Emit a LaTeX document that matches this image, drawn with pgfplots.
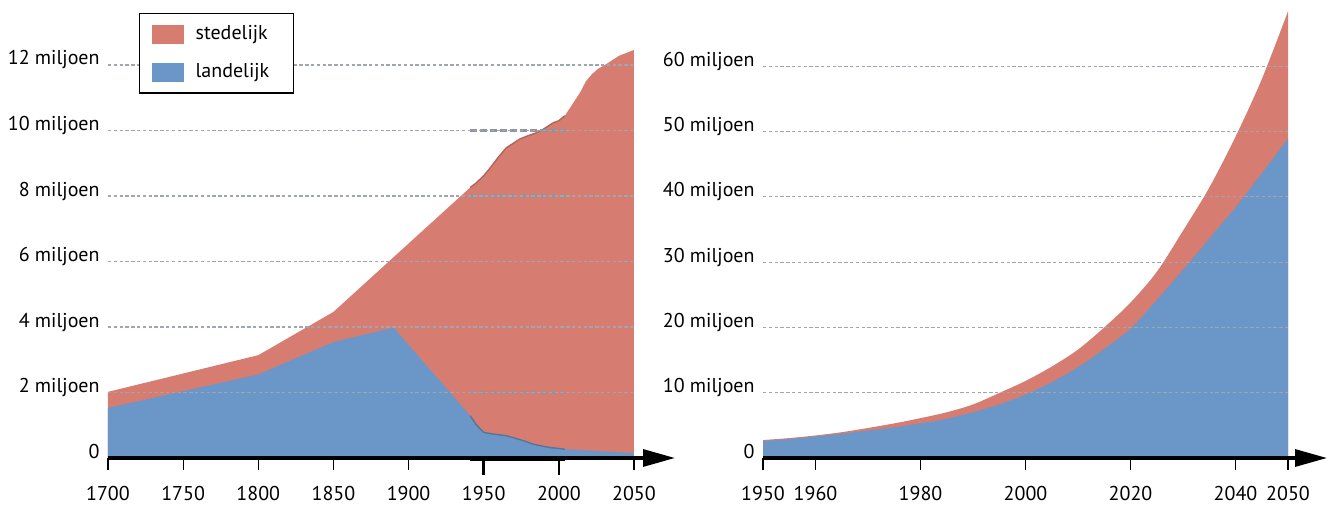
\documentclass[border=0pt]{standalone}
\usepackage{fontspec}
\setmainfont{PT Sans}
\usepackage{pgfplots}
\pgfplotsset{compat=1.18}
\usetikzlibrary{arrows.meta}
\definecolor{redA}{RGB}{214,124,112}
\definecolor{blueA}{RGB}{106,151,199}
\definecolor{gridc}{RGB}{160,166,176}
\definecolor{gridd}{RGB}{140,148,162}

\pgfplotstableread{
x y
1700 2.02
1800 3.14
1850 4.46
1941 8.26
1945 8.40
1950 8.62
1954 8.84
1960 9.20
1965 9.47
1970 9.62
1974 9.74
1980 9.85
1985 9.93
1990 10.05
1996 10.23
2000 10.30
2004 10.45
2009 10.80
2014 11.15
2018 11.50
2022 11.72
2026 11.88
2032 12.04
2040 12.28
2050 12.46
}\lefttotal

\pgfplotstableread{
x y
1700 1.53
1800 2.55
1850 3.54
1890 3.98
1941 1.29
1945 1.02
1950 0.78
1955 0.74
1965 0.68
1975 0.55
1983 0.42
1994 0.32
2004 0.27
2050 0.15
}\leftrural

\pgfplotstableread{
x y
1941 8.26
1945 8.40
1950 8.62
1954 8.84
1960 9.20
1965 9.47
1970 9.62
1974 9.74
1980 9.85
1985 9.93
1990 10.05
1996 10.23
2000 10.30
2004 10.45
}\leftedgetotal

\pgfplotstableread{
x y
1941 1.29
1945 1.02
1950 0.78
1955 0.74
1965 0.68
1975 0.55
1983 0.42
1994 0.32
2004 0.27
}\leftedgerural

\pgfplotstableread{
x y
1950 2.75
1955 3.05
1960 3.45
1965 3.95
1970 4.6
1975 5.3
1980 6.1
1985 7.0
1990 8.2
1995 9.95
2000 11.8
2005 14.0
2010 16.6
2015 20.0
2020 23.8
2025 28.5
2030 34.8
2035 41.4
2040 49.2
2045 58.0
2050 68.4
}\righttotal

\pgfplotstableread{
x y
1950 2.6
1955 2.9
1960 3.3
1965 3.7
1970 4.2
1975 4.7
1980 5.3
1985 6.0
1990 7.0
1995 8.2
2000 9.7
2005 11.6
2010 13.9
2015 16.7
2020 19.8
2025 24.2
2030 28.8
2035 33.6
2040 38.4
2045 43.6
2050 48.9
}\rightrural

\begin{document}
\begin{tikzpicture}
\useasboundingbox (0pt,0pt) rectangle (664pt,252pt);
\pgfplotsset{
  myaxis/.style={
    scale only axis, enlargelimits=false, axis on top,
    axis line style={draw=none},
    ymajorgrids, grid style={gridc, line width=0.55pt, dash pattern=on 1.7pt off 1.2pt},
    xtick align=outside, xtick pos=left,
    ytick style={draw=none},
    major tick length=6pt, xtick style={black, line width=0.6pt},
    tick label style={font=\fontsize{10}{12}\selectfont},
    yticklabel style={anchor=base east, inner sep=0pt, xshift=-4pt},
    xticklabel style={anchor=base, inner sep=0pt, yshift=-15pt},
  }
}
% left panel
\begin{axis}[myaxis, at={(54pt,23pt)}, anchor=south west,
  width=263pt, height=212.875pt,
  xmin=1700, xmax=2050, ymin=0, ymax=13,
  xtick={1700,1750,1800,1850,1900,1950,2000,2050},
  xticklabels={1700,1750,1800,1850,1900,1950,2000,2050},
  ytick={0,2,4,6,8,10,12},
  yticklabels={0,2 miljoen,4 miljoen,6 miljoen,8 miljoen,10 miljoen,12 miljoen},
  legend style={at={(0.0589,1.0452)}, anchor=north west, draw=black, line width=0.6pt,
    fill=white, inner xsep=6pt, inner ysep=5pt, row sep=8.5pt,
    font=\fontsize{10}{12}\selectfont,
    nodes={inner xsep=6pt, inner ysep=1pt}},
  legend cell align=left,
  legend image code/.code={\fill[#1] (0pt,-4.75pt) rectangle (16pt,4.75pt);},
]
\addplot[fill=redA, draw=none] table[x=x,y=y] {\lefttotal} \closedcycle;
\addlegendentry{stedelijk}
\addplot[fill=blueA, draw=none] table[x=x,y=y] {\leftrural} \closedcycle;
\addlegendentry{landelijk}
\addplot[forget plot, draw=redA!82!black, line width=0.7pt] table[x=x,y=y] {\leftedgetotal};
\addplot[forget plot, draw=blueA!78!black, line width=0.7pt] table[x=x,y=y] {\leftedgerural};
\draw[gridd, line width=1.6pt, dash pattern=on 3.5pt off 1.5pt] (axis cs:1941,10) -- (axis cs:2004,10);
\draw[gridd, opacity=0.6, line width=1.6pt, dash pattern=on 3.5pt off 1.5pt] (axis cs:1941,8) -- (axis cs:2004,8);
\draw[gridd, opacity=0.6, line width=1.6pt, dash pattern=on 3.5pt off 1.5pt] (axis cs:1941,2) -- (axis cs:2004,2);
\coordinate (LA) at (axis cs:1700,0);
\coordinate (LB) at (axis cs:2050,0);
\coordinate (LC) at (axis cs:1941,0);
\coordinate (LD) at (axis cs:2004,0);
\coordinate (LE) at (axis cs:1950,0);
\coordinate (LF) at (axis cs:2000,0);
\end{axis}
\draw[line width=1.6pt, -{Triangle[length=16pt,width=8.5pt]}] (LA) -- ([xshift=20.5pt]LB);
\draw[line width=2.4pt] ([yshift=-0.5pt]LC) -- ([yshift=-0.5pt]LD);
\draw[line width=1.3pt] (LE) -- ++(0,-8.5pt);
\draw[line width=1.3pt] (LF) -- ++(0,-8.5pt);

% right panel
\begin{axis}[myaxis, at={(381.5pt,23pt)}, anchor=south west,
  width=262.5pt, height=228.55pt,
  xmin=1950, xmax=2050, ymin=0, ymax=70,
  xtick={1950,1960,1980,2000,2020,2040,2050},
  xticklabels={1950,1960,1980,2000,2020,2040,2050},
  ytick={0,10,20,30,40,50,60},
  yticklabels={0,10 miljoen,20 miljoen,30 miljoen,40 miljoen,50 miljoen,60 miljoen},
]
\addplot[fill=redA, draw=none, smooth, tension=0.5] table[x=x,y=y] {\righttotal} \closedcycle;
\addplot[fill=blueA, draw=none, smooth, tension=0.5] table[x=x,y=y] {\rightrural} \closedcycle;
\coordinate (RA) at (axis cs:1950,0);
\coordinate (RB) at (axis cs:2050,0);
\end{axis}
\draw[line width=1.6pt, -{Triangle[length=16pt,width=8.5pt]}] (RA) -- ([xshift=19.5pt]RB);
\end{tikzpicture}
\end{document}
